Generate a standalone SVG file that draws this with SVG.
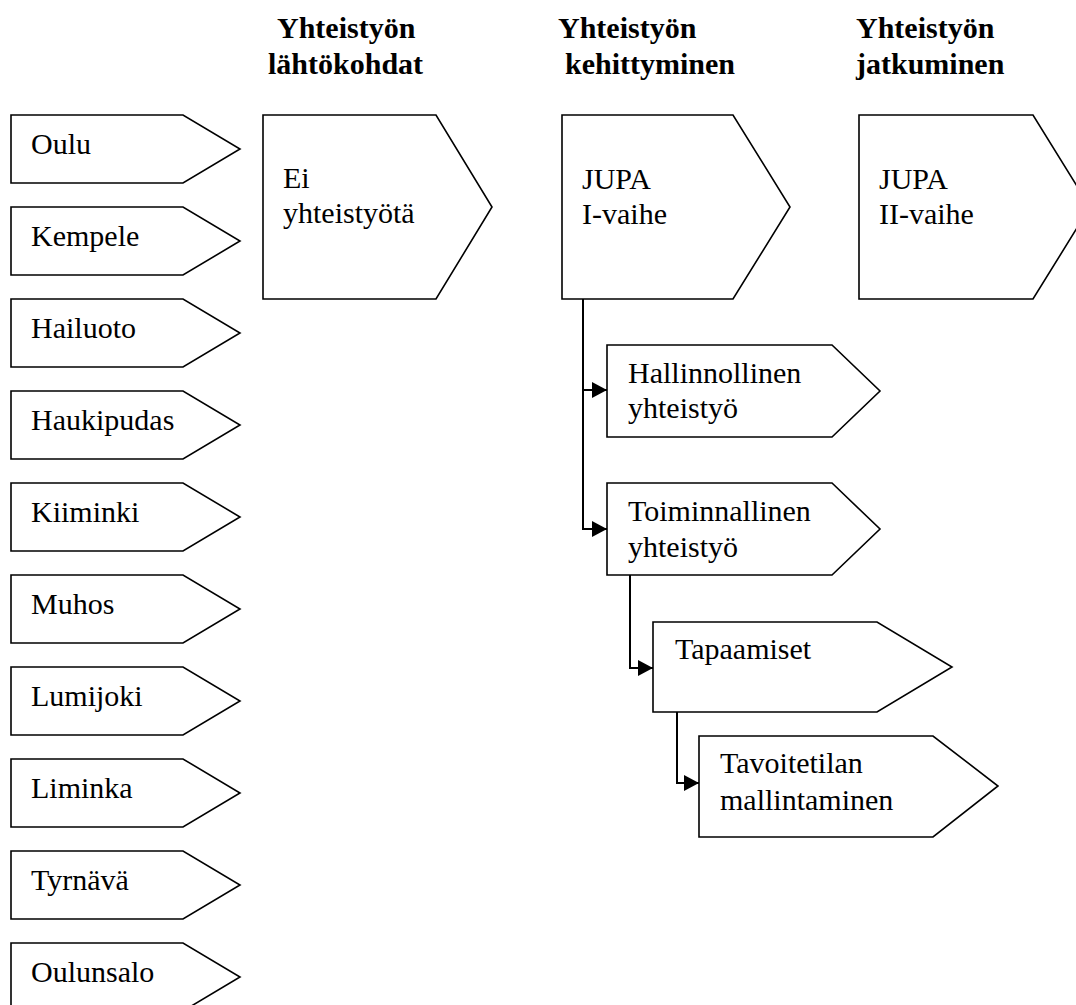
<svg xmlns="http://www.w3.org/2000/svg" width="1076" height="1005" viewBox="0 0 1076 1005">
<style>
.n{fill:#fff;stroke:#000;stroke-width:1.6;stroke-linejoin:miter}
.t{font-family:"Liberation Serif","Times New Roman",serif;font-size:30px;fill:#000}
.h{font-family:"Liberation Serif","Times New Roman",serif;font-size:30px;font-weight:bold;fill:#000}
.c{fill:none;stroke:#000;stroke-width:2}
</style>
<defs>
<marker id="ah" markerUnits="userSpaceOnUse" markerWidth="16" markerHeight="18" refX="15" refY="8" orient="auto">
<path d="M0,0 L15,8 L0,16 Z" fill="#000"/>
</marker>
</defs>
<rect width="1076" height="1005" fill="#fff"/>
<g id="headers">
<text class="h" x="277" y="38">Yhteistyön</text>
<text class="h" x="268" y="74">lähtökohdat</text>
<text class="h" x="558" y="38">Yhteistyön</text>
<text class="h" x="565" y="74">kehittyminen</text>
<text class="h" x="856" y="38">Yhteistyön</text>
<text class="h" x="856" y="74">jatkuminen</text>
</g>
<g id="oulu"><path class="n" d="M11,115 H183 L240,149 L183,183 H11 Z"/><text class="t" x="31" y="154">Oulu</text></g>
<g id="kempele"><path class="n" d="M11,207 H183 L240,241 L183,275 H11 Z"/><text class="t" x="31" y="246">Kempele</text></g>
<g id="hailuoto"><path class="n" d="M11,299 H183 L240,333 L183,367 H11 Z"/><text class="t" x="31" y="338">Hailuoto</text></g>
<g id="haukipudas"><path class="n" d="M11,391 H183 L240,425 L183,459 H11 Z"/><text class="t" x="31" y="430">Haukipudas</text></g>
<g id="kiiminki"><path class="n" d="M11,483 H183 L240,517 L183,551 H11 Z"/><text class="t" x="31" y="522">Kiiminki</text></g>
<g id="muhos"><path class="n" d="M11,575 H183 L240,609 L183,643 H11 Z"/><text class="t" x="31" y="614">Muhos</text></g>
<g id="lumijoki"><path class="n" d="M11,667 H183 L240,701 L183,735 H11 Z"/><text class="t" x="31" y="706">Lumijoki</text></g>
<g id="liminka"><path class="n" d="M11,759 H183 L240,793 L183,827 H11 Z"/><text class="t" x="31" y="798">Liminka</text></g>
<g id="tyrnava"><path class="n" d="M11,851 H183 L240,885 L183,919 H11 Z"/><text class="t" x="31" y="890">Tyrnävä</text></g>
<g id="oulunsalo"><path class="n" d="M11,943 H183 L240,977 L183,1011 H11 Z"/><text class="t" x="31" y="982">Oulunsalo</text></g>
<g id="ei-yhteistyota"><path class="n" d="M263,115 H436 L492,207 L436,299 H263 Z"/><text class="t" x="283" y="188">Ei</text><text class="t" x="283" y="223">yhteistyötä</text></g>
<g id="jupa1"><path class="n" d="M562,115 H733 L790,207 L733,299 H562 Z"/><text class="t" x="582" y="189">JUPA</text><text class="t" x="582" y="224">I-vaihe</text></g>
<g id="jupa2"><path class="n" d="M859,115 H1033 L1090,207 L1033,299 H859 Z"/><text class="t" x="879" y="189">JUPA</text><text class="t" x="879" y="224">II-vaihe</text></g>
<g id="hallinnollinen"><path class="n" d="M607,345 H832 L880,391 L832,437 H607 Z"/><text class="t" x="628" y="383">Hallinnollinen</text><text class="t" x="628" y="418">yhteistyö</text></g>
<g id="toiminnallinen"><path class="n" d="M607,483 H832 L880,529 L832,575 H607 Z"/><text class="t" x="628" y="521">Toiminnallinen</text><text class="t" x="628" y="557">yhteistyö</text></g>
<g id="tapaamiset"><path class="n" d="M653,622 H877 L952,667 L877,712 H653 Z"/><text class="t" x="675" y="659">Tapaamiset</text></g>
<g id="tavoitetilan"><path class="n" d="M699,736 H933 L998,786 L933,837 H699 Z"/><text class="t" x="720" y="773">Tavoitetilan</text><text class="t" x="720" y="810">mallintaminen</text></g>
<g id="connectors">
<path class="c" d="M583,299 V390 H607" marker-end="url(#ah)"/>
<path class="c" d="M583,390 V529 H607" marker-end="url(#ah)"/>
<path class="c" d="M630,575 V668 H653" marker-end="url(#ah)"/>
<path class="c" d="M677,712 V783 H699" marker-end="url(#ah)"/>
</g>
</svg>
